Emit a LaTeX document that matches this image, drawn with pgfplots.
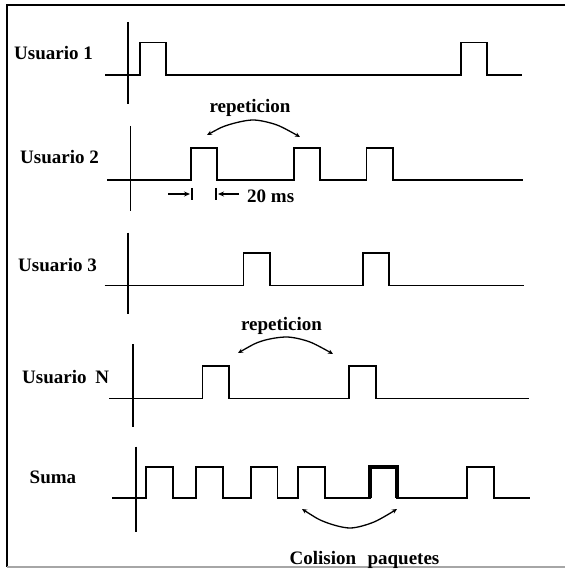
\documentclass[border=0pt]{standalone}
\usepackage{pgfplots}
\pgfplotsset{compat=1.18}
\usepackage{fontspec}
\setmainfont{Liberation Serif}
\usetikzlibrary{arrows.meta}

% pulse trains (pixel units, y downwards)
\pgfplotstableread{
x y
105 75
140 75
140 42.5
166 42.5
166 75
461 75
461 42.5
487 42.5
487 75
522 75
}\userone
\pgfplotstableread{
x y
107 180
191 180
191 148
217 148
217 180
294 180
294 148
320 148
320 180
366.5 180
366.5 148
393 148
393 180
523 180
}\usertwo
\pgfplotstableread{
x y
104.5 285.5
243.5 285.5
243.5 253
270 253
270 285.5
363 285.5
363 253
389 253
389 285.5
524 285.5
}\userthree
\pgfplotstableread{
x y
109 398.5
202.5 398.5
202.5 366
229 366
229 398.5
349 398.5
349 366
376 366
376 398.5
529 398.5
}\usern
\pgfplotstableread{
x y
112 498
146 498
146 467
173 467
173 498
196 498
196 467
223 467
223 498
251 498
251 467
277.5 467
277.5 498
298 498
298 467
325 467
325 498
370 498
370 467
397 467
397 498
467 498
467 467
494 467
494 498
530 498
}\suma

\begin{document}
\begin{tikzpicture}[
  lbl/.style={font=\bfseries\fontsize{19}{22}\selectfont, anchor=west, inner sep=0pt},
  arr/.style={line width=1.3pt, {Stealth[length=5pt,width=4.5pt]}-{Stealth[length=5pt,width=4.5pt]}},
  ln/.style={black, line width=1.8pt, mark=none, line join=miter},
]
\begin{axis}[
  scale only axis, width=565pt, height=569pt,
  xmin=0, xmax=565, ymin=0, ymax=569, y dir=reverse,
  hide axis, clip=false,
]
\path (rel axis cs:0,0) rectangle (rel axis cs:1,1);

% frame
\addplot[ln, line width=2.6pt] coordinates {(565,5) (7,5) (7,567)};
\addplot[ln, black!35, line width=1.5pt] coordinates {(7,567) (565,567)};

% vertical axes
\addplot[ln] coordinates {(128,22) (128,104.5)};
\addplot[ln] coordinates {(130.5,126) (130.5,211)};
\addplot[ln] coordinates {(128,232.5) (128,313.5)};
\addplot[ln] coordinates {(133,344) (133,426.5)};
\addplot[ln] coordinates {(136,446.5) (136,532)};

% pulse trains
\addplot[ln] table {\userone};
\addplot[ln] table {\usertwo};
\addplot[ln] table {\userthree};
\addplot[ln] table {\usern};
\addplot[ln] table {\suma};
\addplot[ln, line width=3.4pt] coordinates {(370,498) (370,467) (397,467) (397,498)};

% curved arrows
\addplot[ln, arr, smooth] coordinates {(207,135) (228,125) (253,120) (277,125) (300,137)};
\addplot[ln, arr, smooth] coordinates {(238,353) (262,341) (287,337) (310,342) (333,354)};
\addplot[ln, arr, smooth] coordinates {(302,509) (325,522) (350,528) (374,522) (397,509)};

% 20 ms marker
\addplot[ln, line width=1.3pt, -{Stealth[length=6pt,width=5pt]}] coordinates {(168,194) (190,194)};
\addplot[ln, line width=1.3pt] coordinates {(192,188) (192,200)};
\addplot[ln, line width=1.3pt] coordinates {(216,188) (216,200)};
\addplot[ln, line width=1.3pt, -{Stealth[length=6pt,width=5pt]}] coordinates {(239,194) (218,194)};

% labels
\node[lbl] at (axis cs:14,53) {Usuario 1};
\node[lbl] at (axis cs:20,157) {Usuario 2};
\node[lbl] at (axis cs:18,265) {Usuario 3};
\node[lbl] at (axis cs:22,377) {Usuario\hspace{4pt} N};
\node[lbl] at (axis cs:29.5,477) {Suma};
\node[lbl, anchor=center] at (axis cs:250,108) {repeticion};
\node[lbl, anchor=center] at (axis cs:281.5,326) {repeticion};
\node[lbl] at (axis cs:247,196) {20 ms};
\node[lbl, anchor=base] at (axis cs:364.5,564.5) {Colision\hspace{0.6em}paquetes};
\end{axis}
\end{tikzpicture}
\end{document}
